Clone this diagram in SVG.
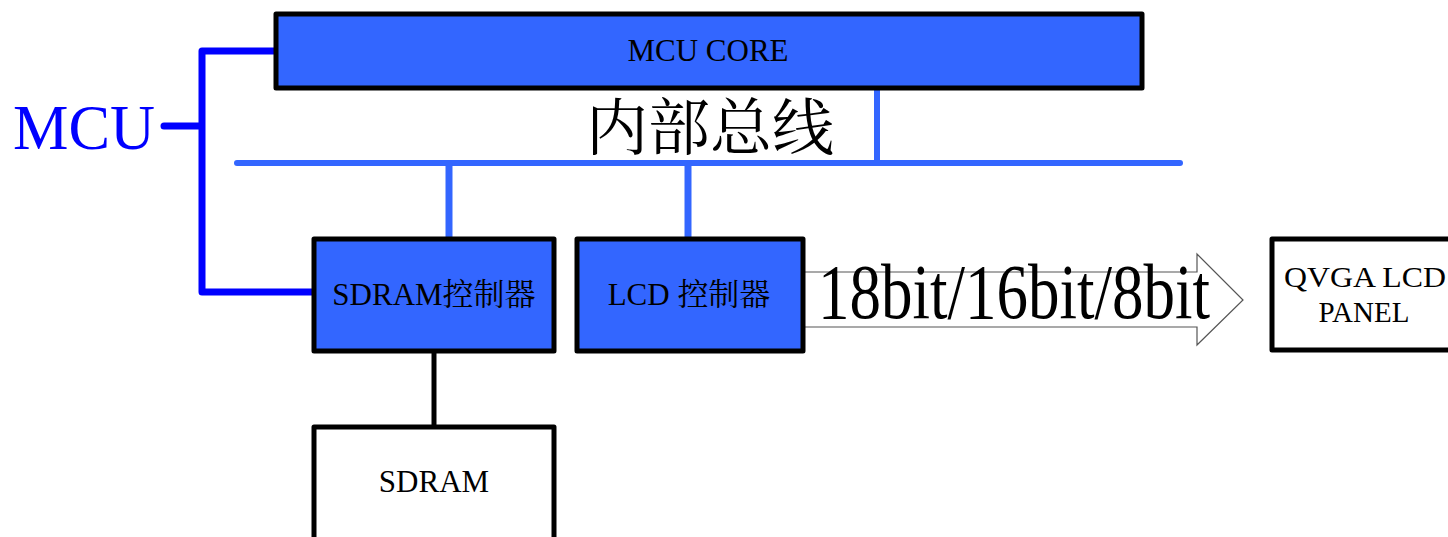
<svg xmlns="http://www.w3.org/2000/svg" width="1448" height="537" viewBox="0 0 1448 537">
<style>
.box{stroke:#000;stroke-width:5;stroke-linejoin:round}
.blue{fill:#3366FF}
.white{fill:#fff}
.t{font-family:"Liberation Serif","Noto Serif CJK SC","Noto Sans CJK SC",serif;fill:#000;text-anchor:middle}
.bus{stroke:#3366FF;stroke-width:6;stroke-linecap:round;fill:none}
.mcu{stroke:#0000FF;stroke-width:7;stroke-linecap:round;stroke-linejoin:round;fill:none}
</style>
<rect width="1448" height="537" fill="#fff"/>
<g id="connectors">
<path class="mcu" d="M164 126 H202 M277 51 H202 V292 H313"/>
<line class="bus" x1="237" y1="163" x2="1180" y2="163"/>
<line x1="877" y1="89" x2="877" y2="163" stroke="#3366FF" stroke-width="6"/>
<line x1="449" y1="163" x2="449" y2="238" stroke="#3366FF" stroke-width="7"/>
<line x1="688" y1="163" x2="688" y2="238" stroke="#3366FF" stroke-width="7"/>
<line x1="434" y1="352" x2="434" y2="426" stroke="#000" stroke-width="5"/>
<path d="M804 272 H1197 V254 L1243 300 L1197 345 V327 H804" fill="#fff" stroke="#555" stroke-width="1.2"/>
<text class="t" x="818" y="256.5" font-size="63" transform="scale(1,1.24)" style="text-anchor:start">18bit/16bit/8bit</text>
</g>
<g id="mcu-label">
<text x="13" y="149" font-family="Liberation Serif, serif" font-size="63" fill="#0000FF" textLength="142" lengthAdjust="spacingAndGlyphs">MCU</text>
</g>
<g id="bus-label">
<text class="t" x="710" y="150" font-size="62">内部总线</text>
</g>
<g id="mcu-core">
<rect class="box blue" x="276" y="14" width="866" height="74"/>
<text class="t" x="708" y="61" font-size="31">MCU CORE</text>
</g>
<g id="sdram-ctrl">
<rect class="box blue" x="314" y="239" width="240" height="112"/>
<text class="t" x="434" y="305" font-size="31">SDRAM控制器</text>
</g>
<g id="lcd-ctrl">
<rect class="box blue" x="577" y="239" width="226" height="112"/>
<text class="t" x="689" y="305" font-size="31">LCD 控制器</text>
</g>
<g id="sdram">
<rect class="box white" x="314" y="427" width="240" height="120"/>
<text class="t" x="434" y="492" font-size="31">SDRAM</text>
</g>
<g id="qvga">
<rect class="box white" x="1272" y="239" width="190" height="111"/>
<text class="t" x="1365" y="287" font-size="29" textLength="162" lengthAdjust="spacingAndGlyphs">QVGA LCD</text>
<text class="t" x="1364" y="322" font-size="29">PANEL</text>
</g>
</svg>
